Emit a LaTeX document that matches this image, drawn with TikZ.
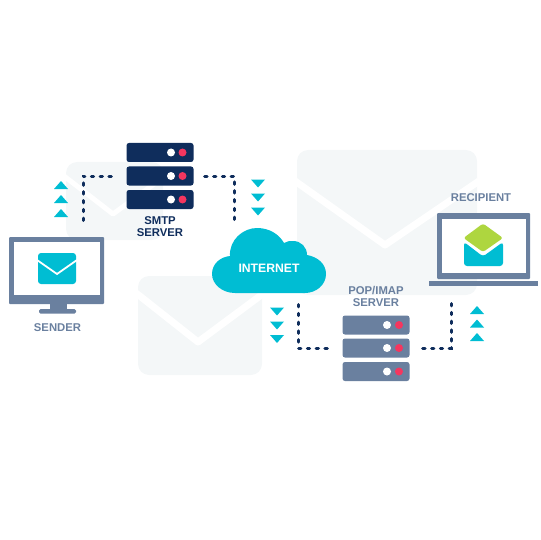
\documentclass[tikz,border=0pt]{standalone}
\usepackage{fontspec}
\setmainfont{Liberation Sans}
\usepackage{tikz}
\definecolor{navy}{HTML}{0F2D5C}
\definecolor{slate}{HTML}{6A809F}
\definecolor{aqua}{HTML}{00BDD3}
\definecolor{leaf}{HTML}{AED63F}
\definecolor{ruby}{HTML}{F5365F}
\definecolor{mist}{HTML}{F4F7F8}

\begin{document}
\begin{tikzpicture}[
  x=1pt,y=-1pt,
  rack/.style={
    rounded corners=2.5pt,
    minimum width=67pt,
    minimum height=19pt,
    inner sep=0pt
  },
  caption/.style={
    align=center,
    font=\bfseries\fontsize{11.3}{12}\selectfont,
    inner sep=0pt
  },
  wire/.style={draw=navy, line width=3pt, dash pattern=on 2.4pt off 6.4pt, line cap=round},
  backmail/.style={fill=mist, rounded corners=11pt},
  fold/.style={draw=white, line width=7pt, line join=round}
]
  \useasboundingbox (0,0) rectangle (540,540);

  % faded envelopes behind everything
  \fill[backmail] (66,162) rectangle (163,240);
  \draw[fold, line width=5pt] (64,176) -- (113,214) -- (165,176);
  \fill[backmail] (297,150) rectangle (477,295);
  \draw[fold] (295,181) -- (385,245) -- (479,181);
  \fill[backmail] (138,276) rectangle (262,375);
  \draw[fold] (136,293) -- (198,342) -- (264,293);

  % servers
  \foreach \name/\y in {smtptop/152.5,smtpmid/176,smtplow/199.5}{
    \node[rack,fill=navy] (\name) at (160,\y) {};
    \fill[white] (171,\y) circle (4);
    \fill[ruby] (182.5,\y) circle (4);
  }
  \foreach \name/\y in {poptop/325,popmid/348,poplow/371.5}{
    \node[rack,fill=slate] (\name) at (376,\y) {};
    \fill[white] (387,\y) circle (4);
    \fill[ruby] (399,\y) circle (4);
  }
  \node[caption,text=navy] (smtplabel) at (160,227) {SMTP\\SERVER};
  \node[caption,text=slate] (poplabel) at (376,296) {POP/IMAP\\SERVER};

  % sender
  \fill[slate, rounded corners=1pt] (9,237) rectangle (104,304);
  \fill[white] (14,241.5) rectangle (100,295);
  \fill[slate] (50,304) rectangle (67,311);
  \fill[slate, rounded corners=1.5pt] (39,309) rectangle (76,313.5);
  \fill[aqua, rounded corners=3pt] (38,253) rectangle (76,284);
  \draw[white, line width=1.8pt] (37,260) -- (57,274) -- (77,260);
  \node[caption,text=slate] (senderlabel) at (57.5,328) {SENDER};

  % recipient
  \fill[slate, rounded corners=1pt] (437,213) rectangle (530,279);
  \fill[white] (441.5,219) rectangle (525.5,273);
  \fill[slate] (428.5,281) rectangle (538,286);
  \fill[aqua, rounded corners=3pt] (464,242) -- (483,256.5) -- (503,242) -- (503,266) -- (464,266) -- cycle;
  \fill[leaf, rounded corners=2.5pt] (483,223.5) -- (503,238) -- (483,252) -- (463.5,238) -- cycle;
  \node[caption,text=slate] (recipientlabel) at (481,198) {RECIPIENT};

  % cloud
  \fill[aqua] (235,293) .. controls (222,293) and (212,284) .. (212,274)
    .. controls (212,264) and (220,257) .. (230,256)
    .. controls (229,240) and (243,228) .. (257,228)
    .. controls (269,228) and (279,234) .. (284,243)
    .. controls (287,241) and (290,241) .. (293,241)
    .. controls (301,241) and (307,247) .. (307,255)
    .. controls (318,257) and (326,264) .. (326,274)
    .. controls (326,285) and (316,293) .. (305,293) -- cycle;
  \node[caption,text=white,font=\bfseries\fontsize{12.2}{13}\selectfont] (internet) at (269,268.5) {INTERNET};

  % dotted links
  \coordinate (senderup) at (83,222);
  \coordinate (netin) at (234,222);
  \coordinate (netout) at (298,303);
  \coordinate (rcptdown) at (451,303);
  \draw[wire, shorten <=15pt] (smtpmid.west) -| (senderup);
  \draw[wire, shorten <=11pt] (smtpmid.east) -| (netin);
  \draw[wire, shorten <=15pt] (popmid.west) -| (netout);
  \draw[wire, shorten <=13pt] (popmid.east) -| (rcptdown);

  % little direction triangles
  \foreach \x/\y in {61/185,61/199,61/213,477/310,477/323.5,477/337}
    \fill[aqua] (\x-7,\y+4) -- (\x+7,\y+4) -- (\x,\y-4) -- cycle;
  \foreach \x/\y in {258/183.5,258/197.5,258/211.5,277/311.5,277/325.5,277/339}
    \fill[aqua] (\x-7,\y-4) -- (\x+7,\y-4) -- (\x,\y+4) -- cycle;
\end{tikzpicture}
\end{document}
